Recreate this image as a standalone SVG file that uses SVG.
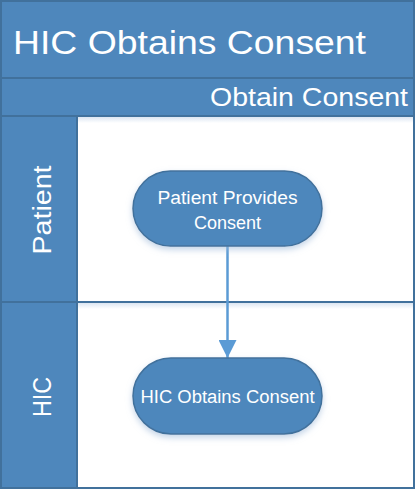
<svg xmlns="http://www.w3.org/2000/svg" width="415" height="491" viewBox="0 0 415 491">
<style>
.band{fill:#4E87BC;stroke:#41719C;stroke-width:2}
.lane{fill:#FFFFFF;stroke:#41719C;stroke-width:2}
.node{fill:#4E87BC;stroke:#41719C;stroke-width:1.5}
.t{font-family:"Liberation Sans",Arial,sans-serif;fill:#FFFFFF}
.conn{stroke:#5B9BD5;stroke-width:2.5;fill:none}
</style>
<defs>
<marker id="arr" viewBox="0 0 10 10" refX="10" refY="5" markerWidth="18" markerHeight="18" markerUnits="userSpaceOnUse" orient="auto">
<path d="M0,0 L10,5 L0,10 Z" fill="#5B9BD5"/>
</marker>
<linearGradient id="sh" x1="0" y1="0" x2="0" y2="1">
<stop offset="0" stop-color="#DCE6F2"/>
<stop offset="1" stop-color="#FFFFFF"/>
</linearGradient>
<filter id="ds" x="-20%" y="-20%" width="140%" height="160%">
<feDropShadow dx="0" dy="3" stdDeviation="3" flood-color="#9DB9D9" flood-opacity="0.6"/>
</filter>
</defs>
<g id="pool">
<rect class="band" x="1" y="1" width="413" height="77"/>
<text class="t" x="13" y="54" font-size="34" textLength="353" lengthAdjust="spacingAndGlyphs">HIC Obtains Consent</text>
<rect class="band" x="1" y="78" width="413" height="38"/>
<text class="t" x="408" y="106" font-size="26" text-anchor="end" textLength="198" lengthAdjust="spacingAndGlyphs">Obtain Consent</text>
</g>
<g id="lane-patient">
<rect class="lane" x="77" y="116" width="337" height="186"/>
<rect x="78" y="117" width="335" height="6" fill="url(#sh)"/>
<rect class="band" x="1" y="116" width="76" height="186"/>
<text class="t" transform="translate(51,210) rotate(-90)" font-size="26" text-anchor="middle" textLength="89" lengthAdjust="spacingAndGlyphs">Patient</text>
</g>
<g id="lane-hic">
<rect class="lane" x="77" y="302" width="337" height="186"/>
<rect x="78" y="303" width="335" height="6" fill="url(#sh)"/>
<rect class="band" x="1" y="302" width="76" height="186"/>
<text class="t" transform="translate(51,397) rotate(-90)" font-size="26" text-anchor="middle" textLength="40" lengthAdjust="spacingAndGlyphs">HIC</text>
</g>
<g id="connectors">
<line class="conn" x1="227.5" y1="245" x2="227.5" y2="358" marker-end="url(#arr)"/>
</g>
<g id="node-patient-provides">
<rect class="node" x="133" y="171" width="189" height="75" rx="37.5" filter="url(#ds)"/>
<text class="t" x="227.5" y="204" font-size="18" text-anchor="middle" textLength="140" lengthAdjust="spacingAndGlyphs">Patient Provides</text>
<text class="t" x="227.5" y="229" font-size="18" text-anchor="middle">Consent</text>
</g>
<g id="node-hic-obtains">
<rect class="node" x="133" y="358" width="189" height="76" rx="38" filter="url(#ds)"/>
<text class="t" x="227.5" y="403" font-size="18" text-anchor="middle" textLength="174" lengthAdjust="spacingAndGlyphs">HIC Obtains Consent</text>
</g>
</svg>
